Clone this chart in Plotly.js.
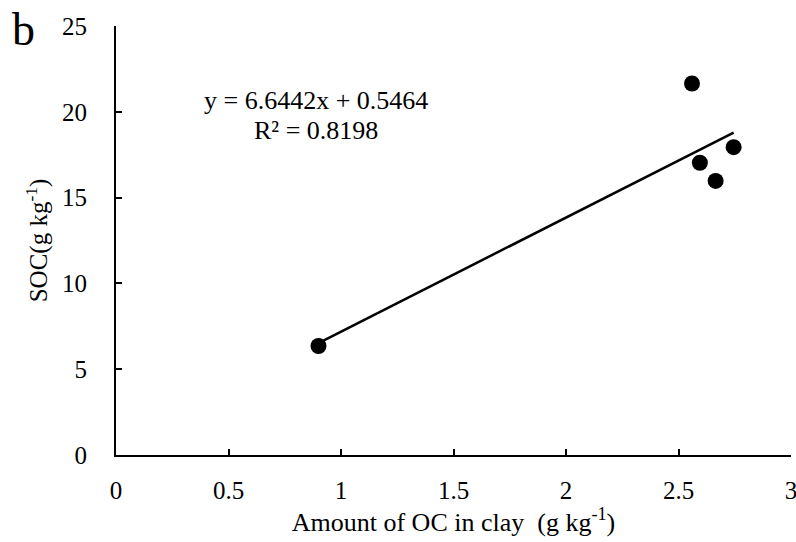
<!DOCTYPE html>
<html><head><meta charset="utf-8">
<script src="https://cdn.plot.ly/plotly-3.0.1.min.js"></script>
<style>html,body{margin:0;padding:0;background:#fff}</style>
</head><body>
<div id="chart" style="width:796px;height:542px"></div>
<script>
// Data
const ocClay = [0.90, 2.56, 2.595, 2.665, 2.745];
const soc = [6.35, 21.65, 17.03, 15.97, 17.94];
const slope = 6.6442;
const intercept = 0.5464;
const r2 = 0.8198;
const xTicks = [0, 0.5, 1, 1.5, 2, 2.5, 3];
const xTickText = ['0', '0.5', '1', '1.5', '2', '2.5', '3'];
const yTicks = [0, 5, 10, 15, 20, 25];

const xMin = Math.min(...ocClay), xMax = Math.max(...ocClay);
const fitX = [xMin, xMax];
const fitY = fitX.map(v => slope * v + intercept);

const fam = '"Liberation Serif", "Times New Roman", serif';
const font = {family: fam, color: '#000', size: 26};
const tickFont = {family: fam, color: '#000', size: 25};
const yTitleFont = {family: fam, color: '#000', size: 25};

const traces = [
  {x: fitX, y: fitY, mode: 'lines', type: 'scatter', line: {color: '#000', width: 2.5}, hoverinfo: 'skip'},
  {x: ocClay, y: soc, mode: 'markers', type: 'scatter', marker: {color: '#000', size: 16}}
];

const layout = {
  width: 796, height: 542,
  margin: {l: 116, r: 5, t: 26, b: 87},
  paper_bgcolor: '#fff', plot_bgcolor: '#fff',
  showlegend: false,
  font: font,
  xaxis: {
    range: [0, 3], tickvals: xTicks, ticktext: xTickText,
    showgrid: false, zeroline: false,
    showline: true, linecolor: '#000', linewidth: 2,
    ticks: 'inside', ticklen: 6, tickwidth: 2, tickcolor: '#000',
    ticklabelstandoff: 12, ticklabeloverflow: 'allow',
    tickfont: tickFont,
    title: {text: 'Amount of OC in clay  (g kg<sup>-1</sup>)', font: font, standoff: 6}
  },
  yaxis: {
    range: [0, 25], tickvals: yTicks,
    showgrid: false, zeroline: false,
    showline: true, linecolor: '#000', linewidth: 2,
    ticks: 'inside', ticklen: 6, tickwidth: 2, tickcolor: '#000',
    ticklabelstandoff: 22, ticklabeloverflow: 'allow',
    tickfont: tickFont,
    title: {text: 'SOC(g kg<sup>-1</sup>)', font: yTitleFont, standoff: 7}
  },
  annotations: [
    {text: 'b', xref: 'paper', yref: 'paper', x: (10 - 116) / 675, y: (455 - 2) / 429,
     xanchor: 'left', yanchor: 'top', showarrow: false,
     font: {family: fam, size: 46, color: '#000'}},
    {text: 'y = ' + slope.toFixed(4) + 'x + ' + intercept.toFixed(4), xref: 'paper', yref: 'paper',
     x: (316 - 116) / 675, y: (455 - 100) / 429, xanchor: 'center', yanchor: 'middle', showarrow: false, font: font},
    {text: 'R² = ' + r2.toFixed(4), xref: 'paper', yref: 'paper',
     x: (316 - 116) / 675, y: (455 - 130) / 429, xanchor: 'center', yanchor: 'middle', showarrow: false, font: font}
  ]
};

Plotly.newPlot('chart', traces, layout, {displayModeBar: false, staticPlot: true});
</script>
</body></html>
